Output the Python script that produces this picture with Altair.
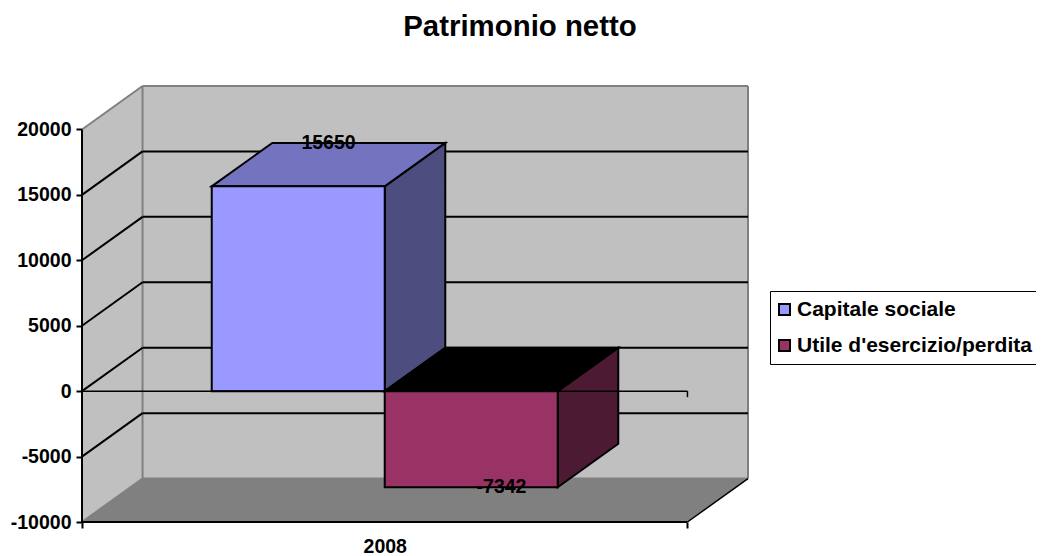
import altair as alt
import pandas as pd

TITLE = "Patrimonio netto"
CATEGORY = "2008"
SERIES = ["Capitale sociale", "Utile d'esercizio/perdita"]
VALUES = [15650, -7342]
FRONT = ["#9999FF", "#993366"]
TOP = ["#7373BF", "#000000"]
SIDE = ["#4D4D80", "#4D1A33"]
TICKS = [-10000, -5000, 0, 5000, 10000, 15000, 20000]
GRID = [-5000, 0, 5000, 10000, 15000]
BAR_EDGES = [3 / 14, 7 / 14, 11 / 14]
YMIN, YMAX = -10000, 20000
DX, DY = 0.1, 3320  # oblique depth of the 3-D box, in data units
TICK_LEN = 460
FONT = "Liberation Sans"

x_enc = alt.X("x:Q", title=None,
              scale=alt.Scale(domain=[0, 1 + DX], nice=False, zero=False),
              axis=alt.Axis(values=[0, 0.5, 1], grid=False, domain=False, tickColor="black",
                            tickWidth=2, tickSize=6, tickOpacity=alt.expr("datum.value==0.5?0:1"),
                            labelExpr="datum.value==0.5?'" + CATEGORY + "':''",
                            labelFont=FONT, labelFontWeight="bold", labelFontSize=19.5,
                            labelColor="black", labelPadding=9, labelOverlap=False))
y_enc = alt.Y("y:Q", title=None, stack=None,
              scale=alt.Scale(domain=[YMIN, YMAX + DY], nice=False, zero=False),
              axis=alt.Axis(values=TICKS, grid=False, domain=False, tickColor="black",
                            tickWidth=2, tickSize=6, labelExpr="''+datum.value",
                            labelFont=FONT, labelFontWeight="bold", labelFontSize=19.5,
                            labelColor="black", labelPadding=5, labelOverlap=False))


def poly(rows, fill, stroke=None, width=2):
    kw = dict(fill=fill, opacity=1, interpolate="linear")
    if stroke:
        kw.update(stroke=stroke, strokeWidth=width)
    df = pd.DataFrame(rows, columns=["x", "y", "y2"])
    return alt.Chart(df).mark_area(**kw).encode(x=x_enc, y=y_enc, y2="y2:Q")


def side(x, lo, hi, fill, stroke=None, width=2):
    return poly([(x, lo, hi), (x + DX, lo + DY, hi + DY)], fill, stroke, width)


def top(x0, x1, y, fill, stroke=None, width=2):
    return poly([(x0, y, y), (x0 + DX, y, y + DY), (x1, y, y + DY), (x1 + DX, y + DY, y + DY)],
                fill, stroke, width)


def seg(x0, y0, x1, y1, color="black", width=2):
    df = pd.DataFrame({"x": [x0, x1], "y": [y0, y1]})
    return alt.Chart(df).mark_line(color=color, strokeWidth=width).encode(x=x_enc, y=y_enc)


layers = [
    side(0, YMIN, YMAX, "#C0C0C0"),
    poly([(DX, YMIN + DY, YMAX + DY), (1 + DX, YMIN + DY, YMAX + DY)], "#C0C0C0"),
    top(0, 1, YMIN, "#808080"),
    seg(DX, YMIN + DY, DX, YMAX + DY, "#808080", 2),
    seg(DX, YMAX + DY, 1 + DX, YMAX + DY, "#808080", 2),
    seg(1 + DX, YMIN + DY, 1 + DX, YMAX + DY, "#808080", 2),
    seg(0, YMAX, DX, YMAX + DY, "#808080", 2),
    seg(0, YMIN, DX, YMIN + DY, "#808080", 2),
    seg(DX, YMIN + DY, 1 + DX, YMIN + DY, "#808080", 2),
]
for g in GRID:
    layers.append(seg(0, g, DX, g + DY))
    layers.append(seg(DX, g + DY, 1 + DX, g + DY))

for i, v in enumerate(VALUES):
    x0, x1 = BAR_EDGES[i], BAR_EDGES[i + 1]
    layers.append(side(x1, min(v, 0), max(v, 0), SIDE[i], "black"))
    layers.append(top(x0, x1, max(v, 0), TOP[i], "black"))

front = pd.DataFrame({
    "x": BAR_EDGES[:2], "x2": BAR_EDGES[1:], "y": [0, 0], "y2": VALUES, "series": SERIES,
})
layers.append(
    alt.Chart(front).mark_rect(stroke="black", strokeWidth=2, opacity=1).encode(
        x=x_enc, x2="x2:Q", y=y_enc, y2="y2:Q",
        color=alt.Color("series:N", title=None,
                        scale=alt.Scale(domain=SERIES, range=FRONT),
                        legend=alt.Legend(orient="none", legendX=688, legendY=205, title=None,
                                          strokeColor="black", fillColor="white", padding=8,
                                          symbolType="square", symbolSize=121, symbolStrokeColor="black",
                                          symbolStrokeWidth=2, symbolOpacity=1, symbolOffset=-4,
                                          labelFont=FONT, labelFontWeight="bold", labelFontSize=21,
                                          labelColor="black", labelLimit=400, rowPadding=14,
                                          labelOffset=2)),
    )
)

# axis frame drawn from the data scale
layers.append(seg(0, 0, 1, 0, "black", 1.5))
layers.append(seg(1, 0, 1, -TICK_LEN, "black", 1.5))
layers.append(seg(0, YMIN, 0, YMAX, "black", 2))
layers.append(seg(0, YMIN, 1, YMIN, "black", 2))
layers.append(seg(1, YMIN, 1 + DX, YMIN + DY, "black", 1.5))

labels = pd.DataFrame({
    "x": [(BAR_EDGES[i] + BAR_EDGES[i + 1]) / 2 + DX / 2 for i in range(2)],
    "y": [v + DY if v > 0 else v for v in VALUES],
    "label": [str(v) for v in VALUES],
})
layers.append(
    alt.Chart(labels).mark_text(font=FONT, fontWeight="bold", fontSize=19.5, color="black",
                                baseline="middle", align="center")
    .encode(x=x_enc, y=y_enc, text="label:N")
)

chart = (
    alt.layer(*layers)
    .properties(
        width=666, height=436,
        title=alt.TitleParams(TITLE, font=FONT, fontWeight="bold", fontSize=29.4, color="black",
                              anchor="middle", frame="group", dx=105, offset=40),
        padding={"left": 74, "top": 78, "right": 288, "bottom": 34},
        autosize=alt.AutoSizeParams(type="none"),
        background="white",
    )
    .configure_view(stroke=None)
)
chart.save("out.html", embed_options={"renderer": "svg", "actions": False})
